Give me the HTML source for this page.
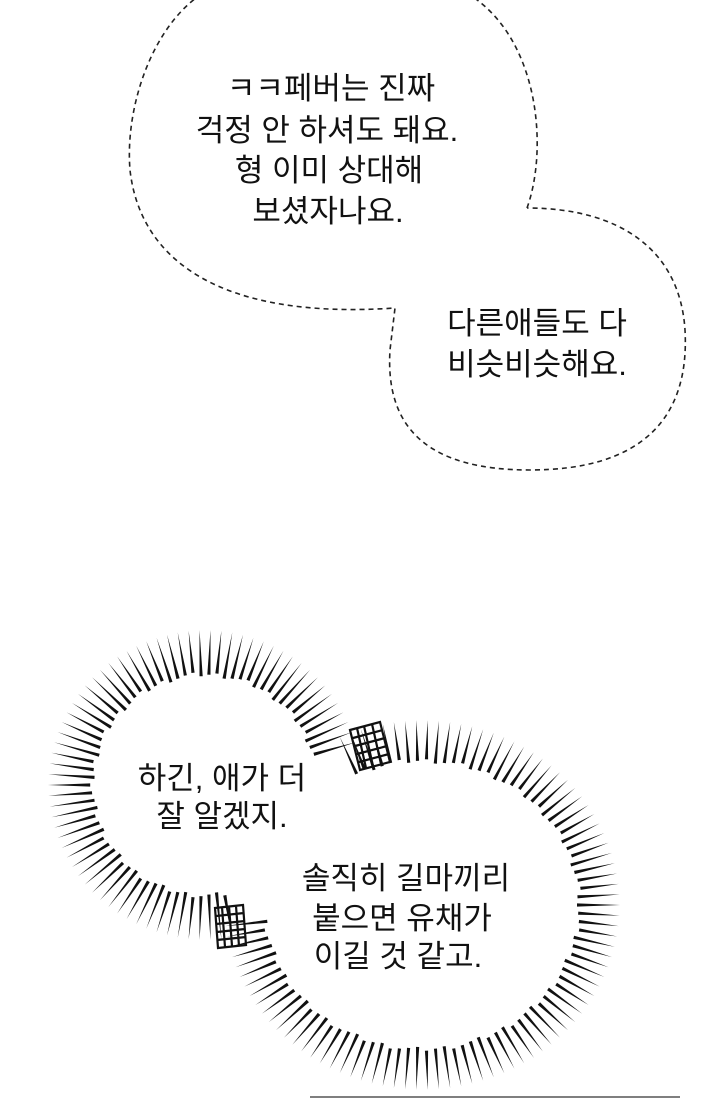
<!DOCTYPE html>
<html><head><meta charset="utf-8"><style>
html,body{margin:0;padding:0;background:#fff;}
svg{display:block;}
text{font-family:"Liberation Sans","Noto Sans CJK KR",sans-serif;font-size:31px;fill:#111;text-anchor:middle;}
</style></head><body>
<svg id="s" width="720" height="1098" viewBox="0 0 720 1098" xmlns="http://www.w3.org/2000/svg">
<path d="M527,208 C548,150 540,40 470,-5 L200,-5 C150,30 125,110 130,170 C140,260 220,320 395,308 L390,350 C385,430 430,470 530,470 C640,470 690,420 685,330 C680,250 620,208 527,208" fill="none" stroke="#222" stroke-width="1.6" stroke-dasharray="5,4"/>
<g id="burst" fill="#111"></g>
<g stroke="#111" stroke-width="2.2" fill="none">
<path d="M350,730 L380,722 L390,762 L360,770 Z M353,738 L383,730 M355,746 L385,738 M357,754 L387,746 M359,762 L389,754 M357,728 L366,768 M364,726 L373,766 M372,724 L381,764"/>
<path d="M215,908 L243,905 L246,945 L218,948 Z M216,916 L244,913 M216,924 L245,921 M217,932 L245,929 M217,940 L246,937 M222,907 L225,947 M229,906 L232,946 M236,906 L239,946"/>
</g>
<text x="331" y="99">ㅋㅋ페버는 진짜</text>
<text x="327" y="141">걱정 안 하셔도 돼요.</text>
<text x="329" y="181">형 이미 상대해</text>
<text x="328" y="222">보셨자나요.</text>
<text x="537" y="334">다른애들도 다</text>
<text x="537" y="375">비슷비슷해요.</text>
<text x="222" y="789">하긴, 애가 더</text>
<text x="222" y="827">잘 알겠지.</text>
<text x="406" y="889">솔직히 길마끼리</text>
<text x="402" y="929">붙으면 유채가</text>
<text x="398" y="967">이길 것 같고.</text>
<line x1="310" y1="1097" x2="680" y2="1097" stroke="#333" stroke-width="1.2"/>
</svg>
<script>
var g=document.getElementById('burst'),h='';
function inE(x,y,cx,cy,rx,ry){var dx=(x-cx)/rx,dy=(y-cy)/ry;return dx*dx+dy*dy<1;}
function burst(cx,cy,orx,ory,irx,iry,n,o){
 for(var i=0;i<n;i++){var a=i/n*2*Math.PI;var c=Math.cos(a),s=Math.sin(a);
  var f=((i*37)%7)/7;
  var x1=cx+c*orx,y1=cy+s*ory,x2=cx+c*(irx+(orx-irx)*f*0.12),y2=cy+s*(iry+(ory-iry)*f*0.12);
  var mx=(x1+x2)/2,my=(y1+y2)/2;
  if(inE(x2,y2,o[0],o[1],o[2],o[3])||inE(mx,my,o[0],o[1],o[2],o[3]))continue;
  var dx=x1-x2,dy=y1-y2,L=Math.hypot(dx,dy);var px=-dy/L*1.6,py=dx/L*1.6;
  h+='<path d="M'+x1.toFixed(1)+','+y1.toFixed(1)+' L'+(x2+px).toFixed(1)+','+(y2+py).toFixed(1)+' L'+(x2-px).toFixed(1)+','+(y2-py).toFixed(1)+'Z"/>';}
}
burst(205,785,157,155,110,108,90,[422,905,185,170]);
burst(422,905,198,185,155,142,110,[205,785,140,140]);
g.innerHTML=h;
</script>
</body></html>
